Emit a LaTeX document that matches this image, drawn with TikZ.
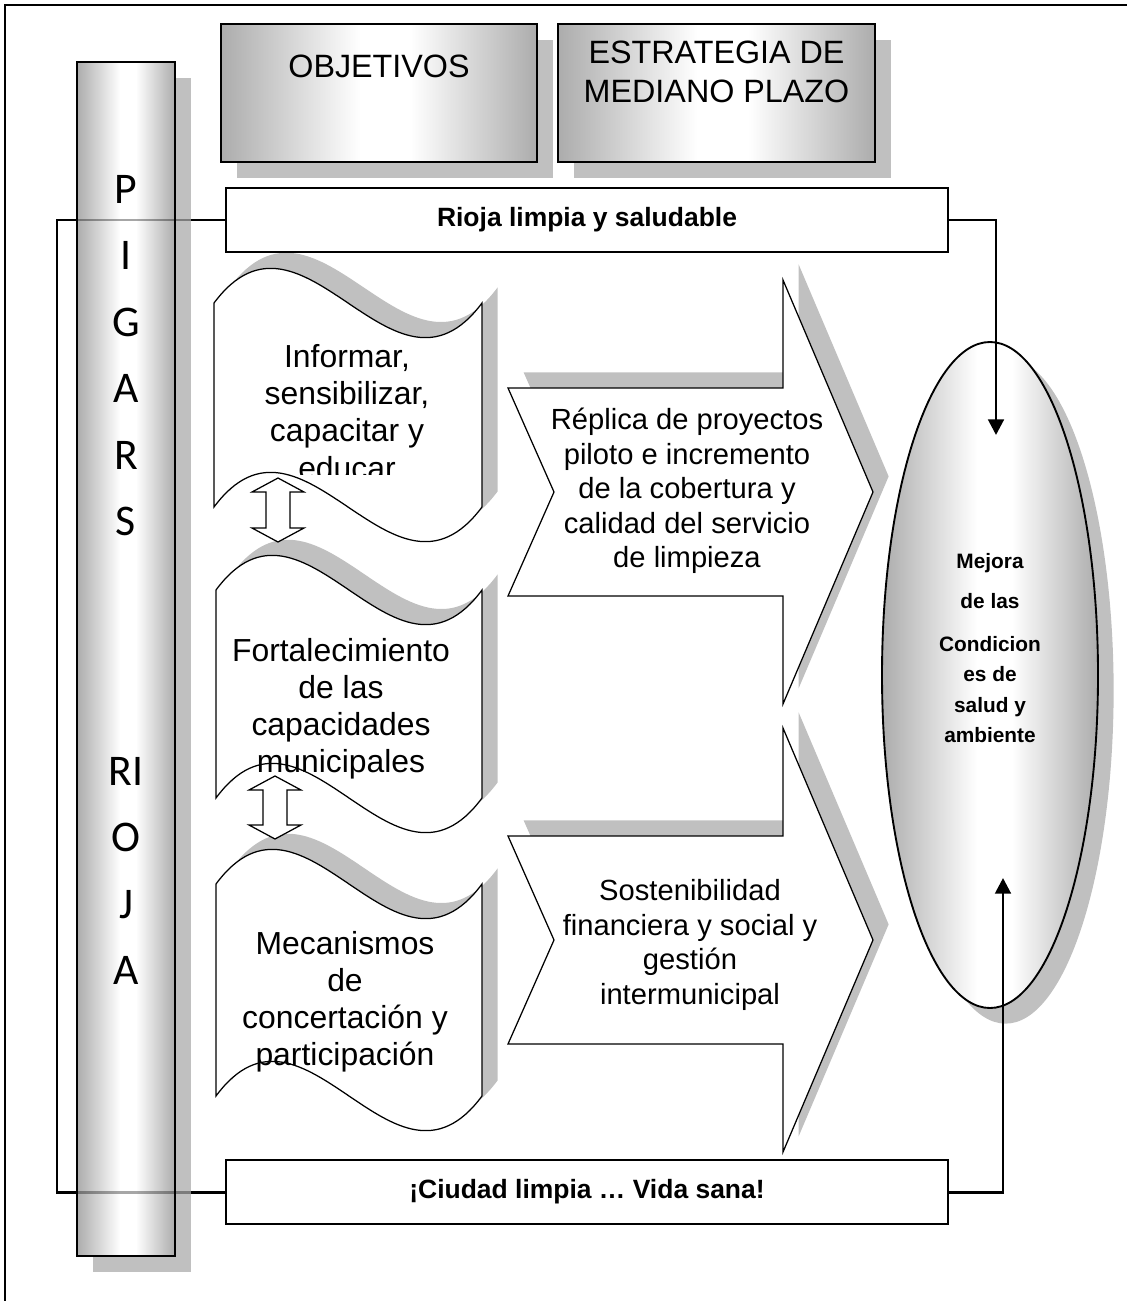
\documentclass[tikz,border=0pt]{standalone}
\usepackage{fontspec}
\setmainfont{Liberation Sans}
\newfontfamily\colfont{Carlito}
\usetikzlibrary{positioning,shapes.geometric,arrows.meta,shadows}

\newlength\pxu
\setlength\pxu{0.48pt}
\definecolor{shadowgray}{RGB}{192,192,192}
\definecolor{metalgray}{RGB}{172,172,172}
\pgfdeclarehorizontalshading{metal}{100bp}{color(0bp)=(metalgray); color(25bp)=(metalgray); color(47bp)=(white); color(55bp)=(white); color(75bp)=(metalgray); color(100bp)=(metalgray)}
\pgfdeclarelayer{background}
\pgfsetlayers{background,main}

% shape outlines, in pixel units
\newcommand{\wavepath}[4]{(#1,#3) .. controls ({#1+(#2-#1)/3},{#3-120}) and ({#1+2*(#2-#1)/3},{#3+120}) .. (#2,#3) -- (#2,#4) .. controls ({#1+2*(#2-#1)/3},{#4+120}) and ({#1+(#2-#1)/3},{#4-120}) .. (#1,#4) -- cycle}
\newcommand{\chevpath}[1]{(508,{#1-104}) -- (783,{#1-104}) -- (783,{#1-212}) -- (873,#1) -- (783,{#1+212}) -- (783,{#1+104}) -- (508,{#1+104}) -- (554,#1) -- cycle}
\newcommand{\dblpath}[3]{(#1,#2) -- ({#1+26},{#2+14}) -- ({#1+12},{#2+14}) -- ({#1+12},{#3-14}) -- ({#1+26},{#3-14}) -- (#1,#3) -- ({#1-26},{#3-14}) -- ({#1-12},{#3-14}) -- ({#1-12},{#2+14}) -- ({#1-26},{#2+14}) -- cycle}

\tikzset{
  shadowdr/.style={drop shadow={shadow xshift=7.5pt, shadow yshift=-7.5pt, fill=shadowgray, opacity=1}},
  shadowur/.style={drop shadow={shadow xshift=7.5pt, shadow yshift=7.5pt, fill=shadowgray, opacity=1}},
  metalbox/.style={draw=black, line width=0.9pt, shade, shading=metal, rectangle, inner sep=0pt, shadowdr},
  hdrtext/.style={align=center, font=\fontsize{15.5}{18.7}\selectfont},
  banner/.style={draw=black, line width=1pt, fill=white, rectangle, minimum width=722*\pxu, minimum height=64*\pxu, font=\fontsize{12.7}{15}\selectfont\bfseries},
  wavebox/.style={draw=black, line width=0.6pt, fill=white, shadowur},
  chevron/.style={draw=black, line width=0.6pt, fill=white, shadowur},
  dblarrow/.style={draw=black, line width=0.6pt, fill=white},
  wavetext/.style={align=center, font=\fontsize{15.3}{17.8}\selectfont},
  chevtext/.style={align=center, font=\fontsize{14}{16.6}\selectfont},
  coltext/.style={align=center, font=\colfont\fontsize{21}{31.9}\selectfont},
  goaltext/.style={align=center, font=\fontsize{10}{14.6}\selectfont\bfseries},
  conn/.style={draw=black, line width=1.4pt},
  toarrow/.style={-{Triangle[width=7.5pt,length=7.5pt]}}
}

\begin{document}
\begin{tikzpicture}[x=0.48pt, y=-0.48pt, node distance=162pt]
  \useasboundingbox (0,0) rectangle (1127,1301);
  % frame
  \draw[line width=0.7pt] (5,1301) |- (1127,5);

  % column
  \node[metalbox, minimum width=98*\pxu, minimum height=1194*\pxu] (col) at (126,659) {};
  \node[coltext] (pigars) at (126,580) {P\\I\\G\\A\\R\\S\\[88pt]RI\\O\\J\\A};

  % headers
  \node[metalbox, minimum width=316*\pxu, minimum height=138*\pxu] (obj) at (379,93) {};
  \node[hdrtext, below=12pt of obj.north] (objtxt) {OBJETIVOS};
  \node[metalbox, minimum width=317*\pxu, minimum height=138*\pxu, right of=obj] (est) {};
  \node[hdrtext, below=5pt of est.north] (esttxt) {ESTRATEGIA DE\\MEDIANO PLAZO};

  % waves
  \draw[wavebox] \wavepath{214}{482}{303}{507};
  \draw[wavebox] \wavepath{216}{482}{590}{798};
  \draw[wavebox] \wavepath{216}{482}{884}{1096};
  \begin{scope}
    \clip (200,300) rectangle (500,474);
    \node[wavetext] (inform) at (347,412) {Informar,\\sensibilizar,\\capacitar y\\educar};
  \end{scope}
  \node[wavetext] (fortal) at (341,709) {Fortalecimiento\\de las\\capacidades\\municipales};
  \node[wavetext] (mecan) at (345,1002) {Mecanismos\\de\\concertación y\\participación};
  \draw[dblarrow] \dblpath{278}{478}{542};
  \draw[dblarrow] \dblpath{275}{776}{839};

  % chevrons
  \draw[chevron] \chevpath{492};
  \node[chevtext] (replica) at (687,491) {Réplica de proyectos\\piloto e incremento\\de la cobertura y\\calidad del servicio\\de limpieza};
  \draw[chevron] \chevpath{940};
  \node[chevtext] (sosten) at (690,945) {Sostenibilidad\\financiera y social y\\gestión\\intermunicipal};

  % goal
  \node[ellipse, draw=black, line width=0.9pt, shade, shading=metal, shadowdr, minimum width=216*\pxu, minimum height=666*\pxu, inner sep=0pt] (goal) at (990,675) {};
  \node[goaltext] (goaltxt) at (990,648) {Mejora\\[4.6pt]de las\\[6pt]Condicion\\es de\\salud y\\ambiente};

  % banners
  \node[banner] (rioja) at (587,220) {Rioja limpia y saludable};
  \node[banner, below of=rioja, node distance=466.6pt] (ciudad) {¡Ciudad limpia … Vida sana!};

  % connectors
  \coordinate (topTip) at (996,435);
  \coordinate (botTip) at (1003,878);
  \coordinate (loopx) at (57,0);
  \draw[conn, toarrow] (rioja.east) -| (topTip);
  \draw[conn, toarrow] (ciudad.east) -| (botTip);
  \begin{pgfonlayer}{background}
    \draw[conn] (rioja.west) -- (rioja.west -| loopx) |- (ciudad.west);
  \end{pgfonlayer}
  \draw[conn, draw opacity=.35] (rioja.west) -- (rioja.west -| loopx);
  \draw[conn, draw opacity=.35] (ciudad.west) -- (ciudad.west -| loopx);
\end{tikzpicture}
\end{document}
